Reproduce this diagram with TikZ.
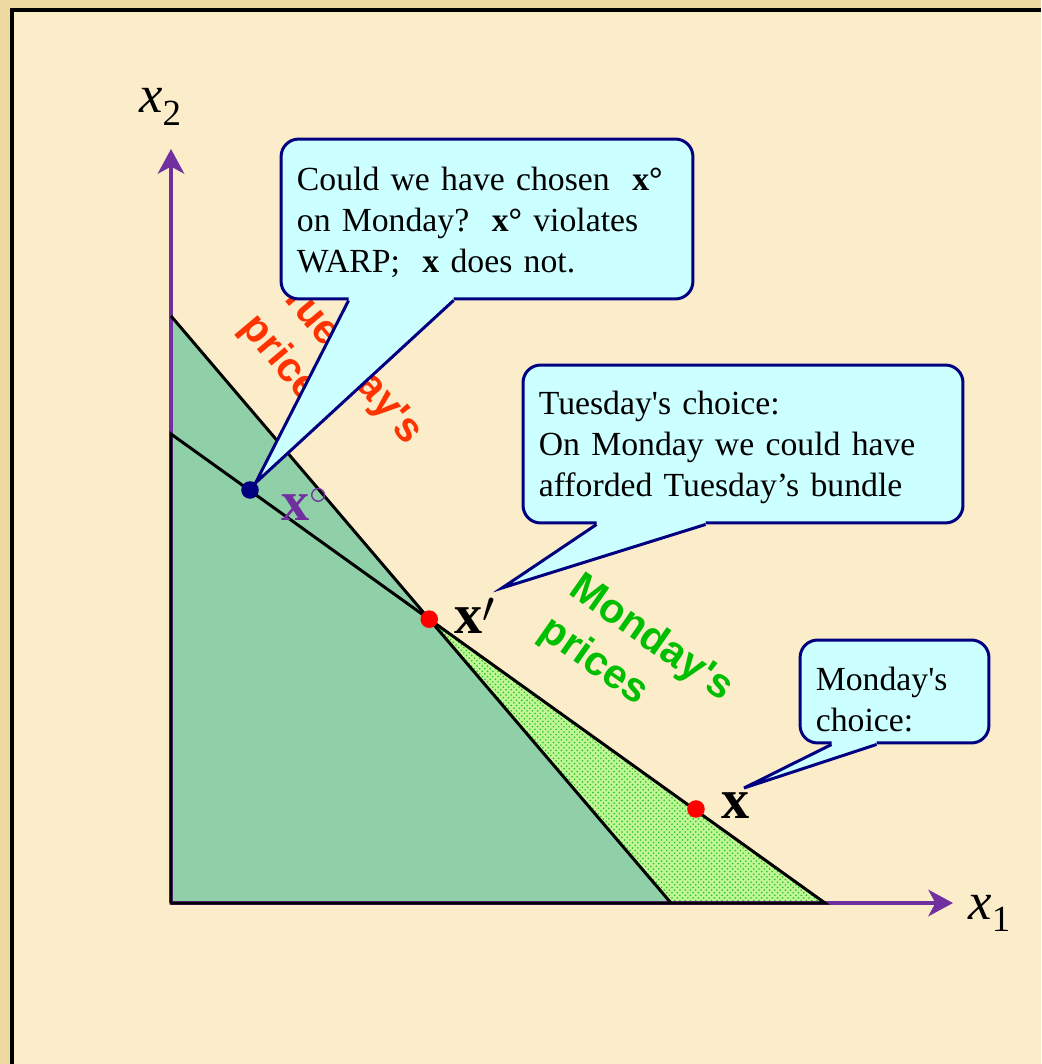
\documentclass[tikz,border=0pt]{standalone}
\usepackage{fontspec}
\setmainfont{Liberation Serif}[Ligatures=TeXOff]
\newfontfamily\arialfont{Liberation Sans}[Ligatures=TeXOff]
\usetikzlibrary{arrows.meta,calc,patterns}

\definecolor{paper}{RGB}{252,237,202}
\definecolor{paperEdge}{RGB}{238,218,160}
\definecolor{axisPurple}{RGB}{112,48,160}
\definecolor{setGreen}{RGB}{144,208,168}
\definecolor{extraGreen}{RGB}{192,246,150}
\definecolor{dotGreen}{RGB}{30,195,30}
\definecolor{bubbleCyan}{RGB}{204,255,255}
\definecolor{bubbleNavy}{RGB}{0,0,128}
\definecolor{monGreen}{RGB}{0,190,0}
\definecolor{tueRed}{RGB}{255,51,0}

\tikzset{
  axis/.style={axisPurple, line width=2.3pt, -{Stealth[length=14pt,width=15pt,inset=4pt]}},
  budget/.style={black, line width=1.7pt},
  dot/.style={circle, inner sep=0pt, minimum size=10pt},
  bundle/.style={font=\fontsize{32}{36}\selectfont\bfseries, inner sep=0pt},
  axislabel/.style={font=\fontsize{30}{36}\selectfont\itshape, inner sep=0pt},
  pricelabel/.style={font=\arialfont\bfseries\fontsize{23.5}{29.5}\selectfont, align=left, inner sep=0pt},
  bubble/.style={draw=bubbleNavy, line width=1.7pt, fill=bubbleCyan, rounded corners=10pt,
    inner xsep=9pt, inner ysep=0pt, align=left, font=\fontsize{19.2}{23.3}\selectfont},
  bubblefill/.style={fill=bubbleCyan},
  bubbleline/.style={bubbleNavy, line width=1.7pt, line join=miter}
}

\begin{document}
\begin{tikzpicture}[x=0.02cm, y=-0.02cm]
  \useasboundingbox (0,0) rectangle (1041,1064);
  \fill[paperEdge] (0,0) rectangle (1041,1064);
  \fill[paper] (12,10) rectangle (1041,1064);
  \draw[line width=2.3pt] (12,1064) -- (12,10) -- (1041,10);

  \node[pricelabel, text=tueRed, rotate=-50] (tuePrices) at (331,380) {Tuesday's\\prices};
  \node[pricelabel, text=monGreen, rotate=-35] (monPrices) at (636,660) {Monday's\\prices};

  \coordinate (O) at (171,903);
  \coordinate (x2tip) at (171,149);
  \coordinate (x1tip) at (953,903);
  \coordinate (monTop) at (171,434);
  \coordinate (monEnd) at (825,903);
  \coordinate (tueTop) at (171,316);
  \coordinate (tueEnd) at (671,903);
  \coordinate (kink) at (intersection of monTop--monEnd and tueTop--tueEnd);

  \fill[setGreen] (tueTop) -- (tueEnd) -- (O) -- cycle;
  \fill[extraGreen] (kink) -- (monEnd) -- (tueEnd) -- cycle;
  \fill[pattern=crosshatch dots, pattern color=dotGreen] (kink) -- (monEnd) -- (tueEnd) -- cycle;

  \draw[axis] (O) -- (x2tip);
  \draw[axis] (O) -- (x1tip);
  \draw[budget] (monTop) -- (monEnd) -- (O) -- cycle;
  \draw[budget] (tueTop) -- (tueEnd);

  \node[axislabel, anchor=base west] (x2lab) at (139,113) {x\raisebox{-7pt}{\fontsize{21}{21}\selectfont\upshape 2}};
  \node[axislabel, anchor=base west] (x1lab) at (968,919) {x\raisebox{-7pt}{\fontsize{21}{21}\selectfont\upshape 1}};

  \node[dot, fill=bubbleNavy] (xo) at (250,490) {};
  \node[dot, fill=red] (xp) at (kink) {};
  \node[dot, fill=red] (xm) at (696,809) {};

  \node[bundle, text=axisPurple, anchor=base west] (xolab) at (281,520) {x$^{\circ}$};
  \node[bundle, anchor=base west] (xplab) at (454,633) {x\raisebox{6pt}{$\prime$}};
  \node[bundle, anchor=base west] (xmlab) at (721,818) {x};

  \coordinate (tuetip) at (502,588);
  \coordinate (montip) at (744,788);

  \node[bubble, text width=216.4pt, minimum height=91pt] (ask) at (487,219)
    {\rule{0pt}{17.5pt}Could we have chosen\ \ \textbf{x°}\\on Monday?\ \ \textbf{x°} violates\\WARP;\ \ \textbf{x} does not.};
  \coordinate (askL) at ($(ask.south west)+(69,0)$);
  \coordinate (askR) at ($(ask.south west)+(174,0)$);
  \fill[bubblefill] (askL) -- (xo.52) -- (askR) -- ([yshift=2pt]askR) -- ([yshift=2pt]askL) -- cycle;
  \draw[bubbleline] (askL) -- (xo.52) -- (askR);

  \node[bubble, text width=232.4pt, minimum height=89.9pt] (tue) at (743,444)
    {\rule{0pt}{17.5pt}Tuesday's choice:\\On Monday we could have\\afforded Tuesday’s bundle};
  \coordinate (tueL) at ($(tue.south west)+(75,0)$);
  \coordinate (tueR) at ($(tue.south west)+(184,0)$);
  \fill[bubblefill] (tueL) -- (tuetip) -- (tueR) -- ([yshift=2pt]tueR) -- ([yshift=2pt]tueL) -- cycle;
  \draw[bubbleline] (tueL) -- (tuetip) -- (tueR);

  \node[bubble, text width=89.5pt, minimum height=58.6pt] (mon) at (894.5,691.5)
    {\rule{0pt}{22pt}Monday's\\choice:};
  \coordinate (monL) at ($(mon.south west)+(33,0)$);
  \coordinate (monR) at ($(mon.south west)+(78,0)$);
  \fill[bubblefill] (monL) -- (montip) -- (monR) -- ([yshift=2pt]monR) -- ([yshift=2pt]monL) -- cycle;
  \draw[bubbleline] (monL) -- (montip) -- (monR);
\end{tikzpicture}
\end{document}
